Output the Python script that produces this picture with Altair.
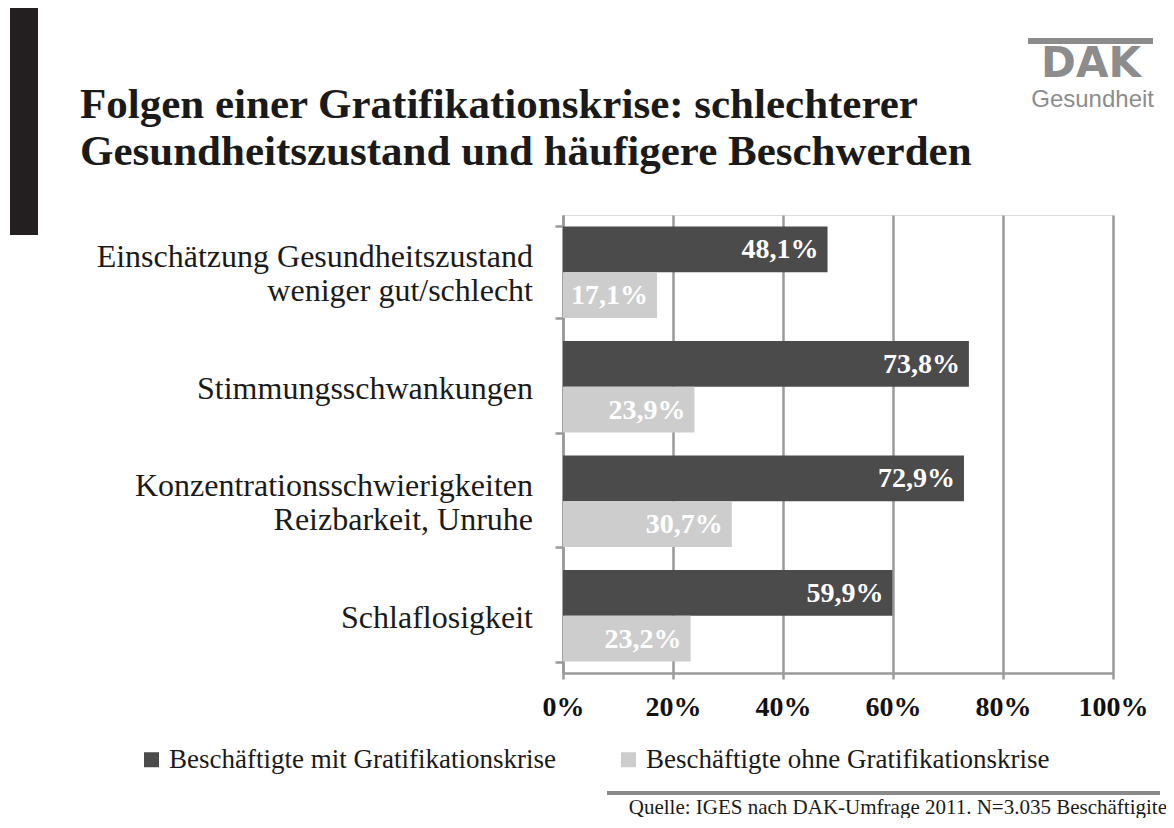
import altair as alt
import pandas as pd

categories = [
    "Einschätzung Gesundheitszustand\nweniger gut/schlecht",
    "Stimmungsschwankungen",
    "Konzentrationsschwierigkeiten\nReizbarkeit, Unruhe",
    "Schlaflosigkeit",
]
series = ["Beschäftigte mit Gratifikationskrise", "Beschäftigte ohne Gratifikationskrise"]
mit_values = [48.1, 73.8, 72.9, 59.9]
ohne_values = [17.1, 23.9, 30.7, 23.2]
x_ticks = [0, 20, 40, 60, 80, 100]
title_lines = ["Folgen einer Gratifikationskrise: schlechterer",
               "Gesundheitszustand und häufigere Beschwerden"]
source_text = "Quelle: IGES nach DAK-Umfrage 2011. N=3.035 Beschäftigite"
logo_text = "DAK"
logo_sub = "Gesundheit"

rows = []
for c, m, o in zip(categories, mit_values, ohne_values):
    rows.append({"category": c, "series": series[0], "value": m})
    rows.append({"category": c, "series": series[1], "value": o})
df = pd.DataFrame(rows)
df_cat = pd.DataFrame({"category": categories})

SERIF = "Liberation Serif"
GRID = "#9a9a9a"
LOGO = "#8c8c8c"

y_scale = alt.Scale(domain=categories, paddingInner=0.2, paddingOuter=0.1)
x_scale = alt.Scale(domain=[0, 100], nice=False)

base = alt.Chart(df)

bars = base.mark_bar().encode(
    x=alt.X("value:Q", scale=x_scale, axis=alt.Axis(
        values=x_ticks, labelExpr="datum.value + '%'", title=None,
        grid=True, gridColor=GRID, gridWidth=2.5,
        domainColor=GRID, domainWidth=2.5, tickColor=GRID, tickWidth=2.5, tickSize=6,
        labelFont=SERIF, labelFontSize=28, labelFontWeight="bold", labelColor="#111111",
        labelPadding=14, labelFlush=False)),
    y=alt.Y("category:N", scale=y_scale, sort=categories, axis=alt.Axis(
        labels=False, title=None, grid=False, tickBand="extent",
        domainColor=GRID, domainWidth=2.5, tickColor=GRID, tickWidth=2.5, tickSize=8)),
    yOffset=alt.YOffset("series:N", sort=series),
    color=alt.Color("series:N", scale=alt.Scale(domain=series, range=["#4b4b4b", "#cdcdcd"]),
                    legend=alt.Legend(
                        orient="none", legendX=-425, legendY=531, direction="horizontal",
                        columns=2, columnPadding=59, title=None,
                        symbolType="square", symbolSize=225, symbolStrokeWidth=0,
                        symbolOpacity=1,
                        labelFont=SERIF, labelFontSize=27, labelColor="#1a1a1a",
                        labelLimit=0, labelOffset=4)),
)

bar_labels = base.mark_text(
    align="right", baseline="middle", dx=-9, dy=1, font=SERIF, fontSize=28,
    fontWeight="bold", color="white"
).transform_calculate(
    lab="replace(format(datum.value, '.1f'), '.', ',') + '%'"
).encode(
    x=alt.X("value:Q", scale=x_scale),
    y=alt.Y("category:N", scale=y_scale, sort=categories),
    yOffset=alt.YOffset("series:N", sort=series),
    text="lab:N",
)

cat_one = alt.Chart(df_cat).transform_filter(
    "indexof(datum.category, '\\n') < 0"
).mark_text(
    align="right", baseline="middle", font=SERIF, fontSize=32, color="#1a1a1a", dy=2
).encode(
    x=alt.value(-30),
    y=alt.Y("category:N", scale=y_scale, sort=categories),
    text="category:N",
)
cat_two = alt.Chart(df_cat).transform_filter(
    "indexof(datum.category, '\\n') >= 0"
).mark_text(
    align="right", baseline="middle", font=SERIF, fontSize=32, color="#1a1a1a",
    lineBreak="\n", lineHeight=34, dy=-15
).encode(
    x=alt.value(-30),
    y=alt.Y("category:N", scale=y_scale, sort=categories),
    text="category:N",
)

def text_layer(txt, x, y, **kw):
    return alt.Chart(pd.DataFrame({"t": [txt]})).mark_text(**kw).encode(
        x=alt.value(x), y=alt.value(y), text="t:N")

t1 = text_layer(title_lines[0], -483, -97, align="left", baseline="alphabetic",
                font=SERIF, fontSize=43, fontWeight="bold", color="#1a1a1a")
t2 = text_layer(title_lines[1], -483, -50, align="left", baseline="alphabetic",
                font=SERIF, fontSize=43, fontWeight="bold", color="#1a1a1a")

black_bar = alt.Chart(pd.DataFrame({"k": [0]})).mark_rect(color="#231f20").encode(
    x=alt.value(-553), x2=alt.value(-525), y=alt.value(-208), y2=alt.value(20))

logo_bar = alt.Chart(pd.DataFrame({"k": [0]})).mark_rect(color=LOGO).encode(
    x=alt.value(465), x2=alt.value(590), y=alt.value(-177), y2=alt.value(-171))
logo_main = text_layer(logo_text, 528, -138, align="center", baseline="alphabetic",
                       font="DejaVu Sans", fontSize=42, fontWeight="bold", color=LOGO)
logo_g = text_layer(logo_sub, 591, -108, align="right", baseline="alphabetic",
                    font="Liberation Sans", fontSize=24, color=LOGO)

src_rule = alt.Chart(pd.DataFrame({"k": [0]})).mark_rect(color="#8a8a8a").encode(
    x=alt.value(44), x2=alt.value(597), y=alt.value(576), y2=alt.value(580))
src_text = text_layer(source_text, 604, 599, align="right", baseline="alphabetic",
                      font=SERIF, fontSize=21, color="#1a1a1a")

chart = alt.layer(
    black_bar, t1, t2, logo_bar, logo_main, logo_g,
    bars, bar_labels, cat_one, cat_two, src_rule, src_text
).properties(
    width=550, height=458,
    padding={"left": 555, "top": 207, "right": 53, "bottom": 145},
    autosize=alt.AutoSizeParams(type="none"),
).configure_view(stroke=None).configure(background="white")

chart.save("out.html", embed_options={"renderer": "svg", "actions": False})
